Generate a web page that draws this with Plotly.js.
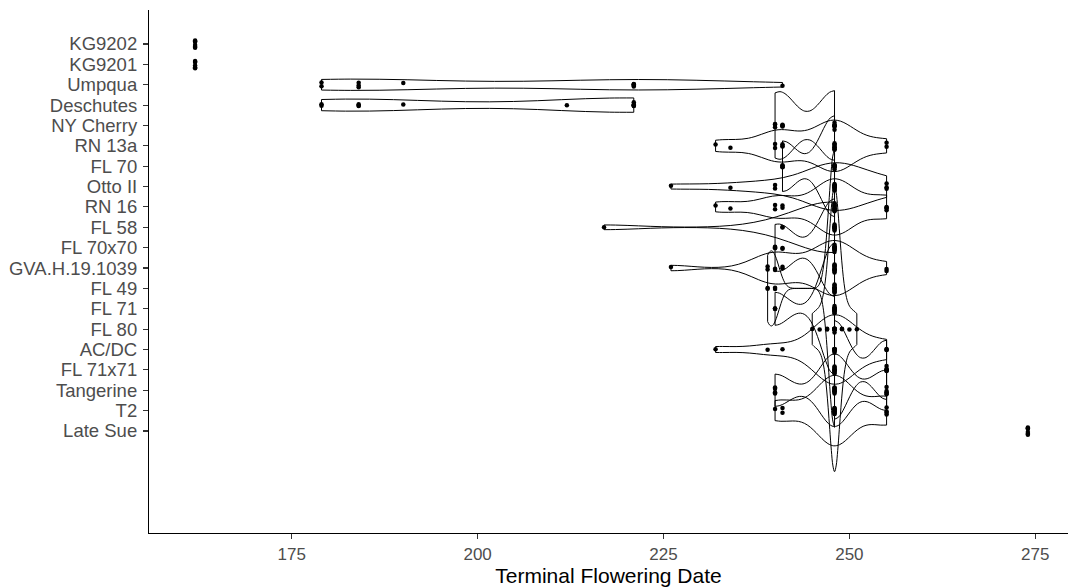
<!DOCTYPE html>
<html><head><meta charset="utf-8">
<script src="https://cdn.plot.ly/plotly-3.0.1.min.js"></script>
<style>html,body{margin:0;padding:0;background:#fff}#chart{width:1068px;height:588px}</style>
</head><body><div id="chart"></div>
<script>
// Categories, top to bottom as drawn
const categories = ["KG9202","KG9201","Umpqua","Deschutes","NY Cherry","RN 13a","FL 70","Otto II","RN 16","FL 58","FL 70x70","GVA.H.19.1039","FL 49","FL 71","FL 80","AC/DC","FL 71x71","Tangerine","T2","Late Sue"];

// Terminal flowering dates per genotype
const kg9202    = [162,162,162,162,162,162];
const kg9201    = [162,162,162,162,162,162];
const umpqua    = [179,179,184,184,184,190,221,221,221,221,221,241];
const deschutes = [179,179,184,184,184,190,212,221,221,221,221,221,221];
const nyCherry  = [240,240,240,241,241,241,241,248,248,248,248,248,248,248];
const rn13a     = [232,234,240,240,241,241,241,248,248,248,248,248,248,248,248,255,255];
const fl70      = [241,241,241,241,248,248,248,248,248,248,248,248];
const ottoII    = [226,234,240,240,248,248,248,248,248,248,248,248,248,248,255,255,255];
const rn16      = [232,234,240,240,241,241,248,248,248,248,248,248,248,248,248,248,255,255,255,255];
const fl58      = [217,241,241,248,248,248,248,248,248,248,248,248,248];
const fl70x70   = [240,240,240,241,241,248,248,248,248,248,248,248,248,248,248];
const gva       = [226,239,239,240,240,241,241,248,248,248,248,248,248,248,248,248,248,255,255];
const fl49      = [239,239,240,240,248,248,248,248,248,248,248,248,248,248,248,248];
const fl71      = [240,240,240,248,248,248,248,248,248,248,248,248,248,248,248];
const fl80      = [245,246,247,247,248,248,248,248,248,248,248,248,248,248,248,249,249,250,251];
const acdc      = [232,239,241,248,248,248,248,248,248,248,248,248,248,248,248,255,255,255];
const fl71x71   = [248,248,248,248,248,248,248,248,248,248,255,255,255,255,255,255];
const tangerine = [240,240,240,240,248,248,248,248,248,248,248,248,248,255,255,255,255,255];
const t2        = [240,241,241,248,248,248,248,248,248,248,248,248,248,255,255,255,255];
const lateSue   = [274,274,274,274,274,274];

const seriesList = [kg9202,kg9201,umpqua,deschutes,nyCherry,rn13a,fl70,ottoII,rn16,fl58,fl70x70,gva,fl49,fl71,fl80,acdc,fl71x71,tangerine,t2,lateSue];
const xTickVals = [175,200,225,250,275];

// R's bw.nrd0 bandwidth rule (as used by ggplot2 geom_violin)
function bwNrd0(v){
  const n=v.length, m=v.reduce((a,b)=>a+b,0)/n;
  const sd=Math.sqrt(v.reduce((a,b)=>a+(b-m)*(b-m),0)/(n-1));
  const s=[...v].sort((a,b)=>a-b);
  const q=p=>{const h=(n-1)*p, lo=Math.floor(h); return s[lo]+(h-lo)*(s[Math.min(lo+1,n-1)]-s[lo]);};
  let lo=Math.min(sd,(q(0.75)-q(0.25))/1.34);
  if(!(lo>0)) lo = sd || Math.abs(s[0]) || 1;
  return 0.9*lo*Math.pow(n,-0.2);
}
// peak of the gaussian KDE inside the data range (for area-equal scaling like ggplot)
function kdePeak(v,bw){
  const lo=Math.min(...v), hi=Math.max(...v), n=v.length, c=1/(n*bw*Math.sqrt(2*Math.PI));
  let best=0;
  for(let k=0;k<=2000;k++){
    const x=lo+(hi-lo)*k/2000; let s=0;
    for(const xi of v){const d=(x-xi)/bw; s+=Math.exp(-0.5*d*d);}
    best=Math.max(best,s*c);
  }
  return best;
}

const VW = 14;          // full width (category units) of the most peaked violin
const JIT = 0.22;       // point jitter half-range in category units
const info = seriesList.map(v=>{
  if(new Set(v).size<2) return null;
  const bw=bwNrd0(v); return {bw, peak:kdePeak(v,bw)};
});
const maxPeak = Math.max(...info.filter(Boolean).map(d=>d.peak));

const traces = categories.map((cat,i)=>{
  const vals = seriesList[i];
  const common = {
    orientation:'h', x: vals, y: vals.map(()=>cat), name: cat,
    marker:{color:'#000', size:4.5}, pointpos:0,
    hoverinfo:'skip', showlegend:false
  };
  const d = info[i];
  if(!d){
    return Object.assign(common, {type:'box', boxpoints:'all', width:1, jitter:JIT*2,
      line:{width:0, color:'rgba(0,0,0,0)'}, fillcolor:'rgba(0,0,0,0)'});
  }
  const w = VW*d.peak/maxPeak;
  return Object.assign(common, {type:'violin', points:'all', spanmode:'hard',
    bandwidth:d.bw, scalemode:'width', width:w, jitter:Math.min(1,JIT*2/w),
    side:'both', line:{color:'#000', width:1}, fillcolor:'rgba(0,0,0,0)',
    box:{visible:false}, meanline:{visible:false}});
});

const font = 'Liberation Sans, Arial, sans-serif';
const layout = {
  width:1068, height:588,
  margin:{l:149, r:0, t:10, b:55},
  paper_bgcolor:'#fff', plot_bgcolor:'#fff',
  showlegend:false, hovermode:false,
  violinmode:'overlay', boxmode:'overlay',
  xaxis:{
    range:[155.8,279.4], tickvals:xTickVals, ticktext:xTickVals.map(String),
    showgrid:false, zeroline:false, showline:true, linecolor:'#000', linewidth:1.1,
    ticks:'outside', ticklen:5, tickcolor:'#333', tickwidth:1.1,
    tickfont:{family:font, size:17, color:'#4D4D4D'},
    title:{text:'Terminal Flowering Date', font:{family:font, size:21, color:'#000'}, standoff:5}
  },
  yaxis:{
    type:'category', categoryorder:'array', categoryarray:[...categories].reverse(),
    tickvals:categories, ticktext:categories,
    range:[-5.01,20.67],
    showgrid:false, zeroline:false, showline:true, linecolor:'#000', linewidth:1.1,
    ticks:'outside', ticklen:5, tickcolor:'#333', tickwidth:1.1, ticklabelstandoff:2,
    tickfont:{family:font, size:18.5, color:'#4D4D4D'}
  }
};
Plotly.newPlot('chart', traces, layout, {staticPlot:true, displayModeBar:false});
</script>
</body></html>
